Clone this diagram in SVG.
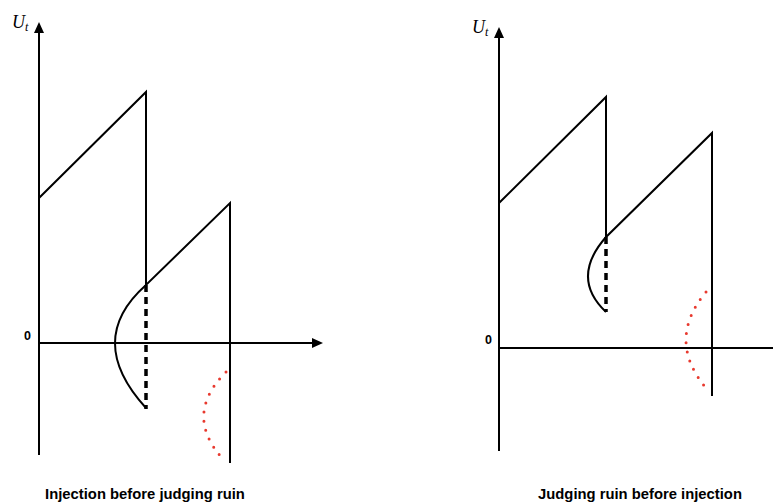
<svg xmlns="http://www.w3.org/2000/svg" width="773" height="503" viewBox="0 0 773 503">
<style>
.ln{fill:none;stroke:#000;stroke-width:2;stroke-linejoin:miter}
.dash{fill:none;stroke:#000;stroke-width:3.5;stroke-dasharray:7 5}
.dots{fill:none;stroke:#e8392e;stroke-width:3;stroke-linecap:round;stroke-dasharray:0 9.3}
.cap{font-family:"Liberation Sans",Arial,sans-serif;font-weight:bold;font-size:14.8px;fill:#000}
.zero{font-family:"Liberation Sans",Arial,sans-serif;font-weight:bold;font-size:12.5px;fill:#000}
.ut{font-family:"Liberation Serif","Times New Roman",serif;font-style:italic;font-size:18px;fill:#000}
</style>
<rect width="773" height="503" fill="#fff"/>
<g id="left-axes">
<line class="ln" x1="39" y1="455" x2="39" y2="30"/>
<polygon points="39,22 34,33 44,33" fill="#000"/>
<line class="ln" x1="39" y1="343" x2="314" y2="343"/>
<polygon points="323,343 312,338 312,348" fill="#000"/>
<text class="ut" x="12" y="28">U<tspan font-size="12" dy="3">t</tspan></text>
<text class="zero" x="24" y="340">0</text>
</g>
<g id="left-path">
<polyline class="ln" points="39,198 146,92 146,285 230,203 230,463"/>
<line class="dash" x1="146" y1="285" x2="146" y2="409"/>
<path class="ln" d="M146,285 Q84,340 146,408"/>
<path class="dots" d="M226,372 Q183,415 223,459"/>
</g>
<g id="right-axes">
<line class="ln" x1="499" y1="451" x2="499" y2="35"/>
<polygon points="499,27 494,38 504,38" fill="#000"/>
<line class="ln" x1="499" y1="348" x2="773" y2="348"/>
<text class="ut" x="472" y="33">U<tspan font-size="12" dy="3">t</tspan></text>
<text class="zero" x="485" y="344">0</text>
</g>
<g id="right-path">
<polyline class="ln" points="499,203 606,97 606,237 712,133 712,396"/>
<line class="dash" x1="606" y1="237" x2="606" y2="312"/>
<path class="ln" d="M606,237 Q570,278 606,312"/>
<path class="dots" d="M706,292 Q666,340 706,388"/>
</g>
<text class="cap" x="145" y="499" text-anchor="middle">Injection before judging ruin</text>
<text class="cap" x="640" y="499" text-anchor="middle">Judging ruin before injection</text>
</svg>
